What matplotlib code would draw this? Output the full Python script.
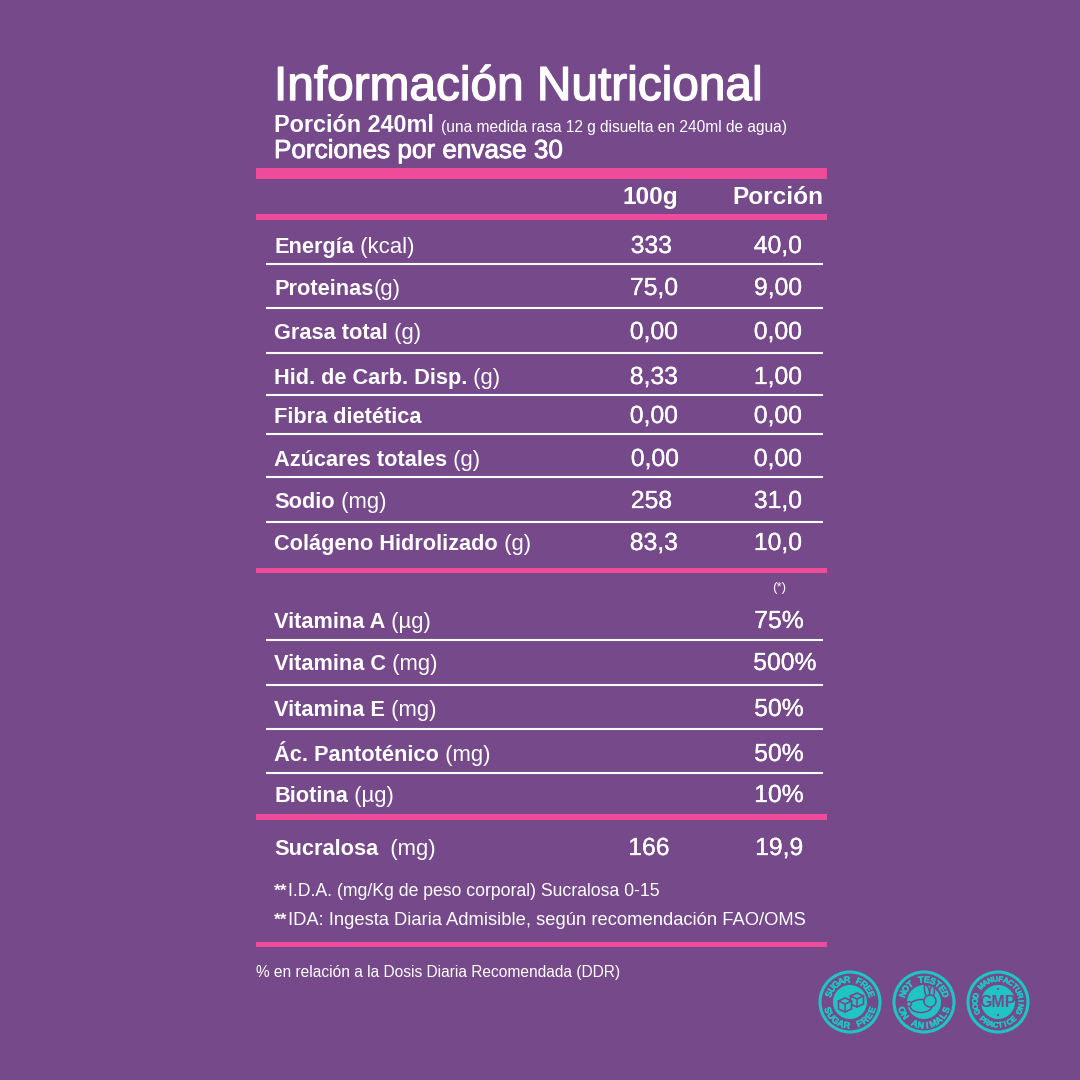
import numpy as np
import matplotlib
matplotlib.use("Agg")
import matplotlib.pyplot as plt
from matplotlib.patches import Circle, Rectangle, Ellipse, Polygon
import matplotlib.patheffects as pe

BG = "#764a8a"; PINK = "#ee4c9b"; WHITE = "#ffffff"; TEAL = "#1fc4c4"
SANS = "Liberation Sans"

# ---- content ----
title = "Información Nutricional"
serving_bold = "Porción 240ml"
serving_note = "(una medida rasa 12 g disuelta en 240ml de agua)"
servings = "Porciones por envase 30"
col_heads = ["100g", "Porción"]
nutr_bold = ["Energía", "Proteinas", "Grasa total", "Hid. de Carb. Disp.", "Fibra dietética",
             "Azúcares totales", "Sodio", "Colágeno Hidrolizado"]
nutr_unit = [" (kcal)", "(g)", " (g)", " (g)", "", " (g)", " (mg)", " (g)"]
nutr_100g = ["333", "75,0", "0,00", "8,33", "0,00", "0,00", "258", "83,3"]
nutr_por = ["40,0", "9,00", "0,00", "1,00", "0,00", "0,00", "31,0", "10,0"]
vit_bold = ["Vitamina A", "Vitamina C", "Vitamina E", "Ác. Pantoténico", "Biotina"]
vit_unit = [" (µg)", " (mg)", " (mg)", " (mg)", " (µg)"]
vit_pct = ["75%", "500%", "50%", "50%", "10%"]
sweet = ("Sucralosa", "  (mg)", "166", "19,9")
note_star = "(*)"
foot1 = "I.D.A. (mg/Kg de peso corporal) Sucralosa 0-15"
foot2 = "IDA: Ingesta Diaria Admisible, según recomendación FAO/OMS"
dose = "% en relación a la Dosis Diaria Recomendada (DDR)"

# ---- layout (pixels) ----
nutr_y = [253, 295, 339, 384, 423, 466, 508, 550]
nutr_x100 = [651.5, 654, 654, 654, 654, 655, 651.5, 654]
nutr_xpor = [778, 778, 778, 778, 778, 778, 778, 778]
vit_y = [628, 670, 716, 761, 802]
vit_x = [779, 785, 779, 779, 779]
white_rules = [264, 308, 353, 395, 434, 477, 522, 640, 685, 729, 773]
pink_rules = [(168, 179), (214, 220), (568, 573), (814, 820), (942, 947)]

fig = plt.figure(figsize=(10.8, 10.8), dpi=100, facecolor=BG)
ax = fig.add_axes([0, 0, 1, 1])
ax.set_xlim(0, 1080); ax.set_ylim(1080, 0); ax.axis("off")
rend = fig.canvas.get_renderer()

def T(x, y, s, size=16.5, bold=False, ha="left", family=SANS, stroke=0, **kw):
    t = ax.text(x, y, s, fontsize=size, fontweight="bold" if bold else "normal",
                family=family, color=WHITE, ha=ha, va="baseline", **kw)
    if stroke:
        t.set_path_effects([pe.withStroke(linewidth=stroke, foreground=WHITE)])
    return t

def fit(t, width):
    bb = t.get_window_extent(rend)
    t.set_fontsize(t.get_fontsize() * width / bb.width)

def pair(x, y, a, b, size=15.7, usize=15.9):
    t = T(x, y, a, size, True)
    end = t.get_window_extent(rend).x1
    if b:
        T(end, y, b.replace(" ", "\u00a0"), usize)

for y0, y1 in pink_rules:
    ax.add_patch(Rectangle((256, y0), 571, y1 - y0, color=PINK, lw=0))
for y in white_rules:
    ax.plot([266, 823], [y, y], color=WHITE, lw=1.5, solid_capstyle="butt")

fit(T(274, 100, title, 31, False, stroke=1.0), 488)
fit(T(274, 132, serving_bold, 16.5, True), 159)
fit(T(441, 132, serving_note, 10.5), 350)
fit(T(274, 158, servings, 16.5, False, stroke=0.6), 289)
T(650.5, 204, col_heads[0], 17.6, True, ha="center")
T(777.5, 204, col_heads[1], 17.6, True, ha="center")

for i in range(len(nutr_bold)):
    pair(274, nutr_y[i], nutr_bold[i], nutr_unit[i])
    T(nutr_x100[i], nutr_y[i], nutr_100g[i], 17.8, ha="center", stroke=0.2)
    T(nutr_xpor[i], nutr_y[i], nutr_por[i], 17.8, ha="center", stroke=0.2)

T(779, 591, note_star, 9.5, ha="center")
for i in range(len(vit_bold)):
    pair(274, vit_y[i], vit_bold[i], vit_unit[i])
    T(vit_x[i], vit_y[i], vit_pct[i], 17.8, ha="center", stroke=0.2)

pair(274, 855, sweet[0], sweet[1])
T(649, 855, sweet[2], 17.8, ha="center", stroke=0.2)
T(779, 855, sweet[3], 17.8, ha="center", stroke=0.2)

a = T(274, 896, "**", 12.5, True); e = a.get_window_extent(rend).x1
fit(T(e, 896, foot1, 12.5), 660 - e)
a = T(274, 925, "**", 12.5, True); e = a.get_window_extent(rend).x1
fit(T(e, 925, foot2, 12.5), 806 - e)
fit(T(256, 977, dose, 13), 366)

# ---- badges ----
def arc_text(cx, cy, r, s, center_deg, step, top=True, color=TEAL, size=6.6):
    n = len(s)
    for i, ch in enumerate(s):
        off = (i - (n - 1) / 2) * step
        ang = center_deg - off if top else center_deg + off
        th = np.deg2rad(ang)
        x = cx + r * np.cos(th); y = cy - r * np.sin(th)
        rot = ang - 90 if top else ang + 90
        t = ax.text(x, y, ch, color=color, fontsize=size, fontweight="bold", family=SANS,
                    ha="center", va="center_baseline", rotation=rot, rotation_mode="anchor")
        t.set_path_effects([pe.withStroke(linewidth=0.3, foreground=color)])

badge_x = [850, 924, 998]
badge_y = 1002
top_labels = ["SUGAR FREE", "NOT TESTED", "GOOD MANUFACTURING"]
bot_labels = ["SUGAR FREE", "ON ANIMALS", "PRACTICE"]
top_steps = [15.5, 15.5, 13.5]
bot_steps = [15.5, 15.5, 12]
top_sizes = [6.6, 6.6, 5.6]
for cx, tl, bl, ts, bs, sz in zip(badge_x, top_labels, bot_labels, top_steps, bot_steps, top_sizes):
    ax.add_patch(Circle((cx, badge_y), 30, fc="none", ec=TEAL, lw=2.2))
    arc_text(cx, badge_y, 23, tl, 90, ts, True, size=sz)
    arc_text(cx, badge_y, 23, bl, 270, bs, False, size=sz)

# sugar free: disc with two cubes
cx = badge_x[0]
ax.add_patch(Circle((cx, badge_y), 17, fc=TEAL, ec="none"))
for dx, dy in [(7, -2), (-5, 3)]:
    x, y = cx + dx, badge_y + dy
    ax.add_patch(Polygon([[x, y - 7], [x + 6.5, y - 4], [x + 6.5, y + 4], [x, y + 7],
                          [x - 6.5, y + 4], [x - 6.5, y - 4]], closed=True, fc=TEAL, ec=BG, lw=1.2))
    ax.plot([x - 6.5, x, x + 6.5], [y - 4, y - 1, y - 4], color=BG, lw=1.1)
    ax.plot([x, x], [y - 1, y + 7], color=BG, lw=1.1)

# not tested: disc with rabbit
cx = badge_x[1]
ax.add_patch(Circle((cx, badge_y), 17, fc=TEAL, ec="none"))
ax.add_patch(Ellipse((cx + 3, badge_y - 11), 4.5, 13, angle=-14, fc=TEAL, ec=BG, lw=1.1))
ax.add_patch(Ellipse((cx + 8, badge_y - 10), 4.5, 13, angle=8, fc=TEAL, ec=BG, lw=1.1))
ax.add_patch(Ellipse((cx - 3, badge_y + 4), 22, 13, fc=TEAL, ec=BG, lw=1.1))
ax.add_patch(Circle((cx + 6, badge_y - 1), 6, fc=TEAL, ec=BG, lw=1.1))
ax.add_patch(Circle((cx - 15, badge_y + 2), 2.4, fc=TEAL, ec=BG, lw=1.0))

# GMP: disc with letters and two dots
cx = badge_x[2]
ax.add_patch(Circle((cx, badge_y), 17, fc=TEAL, ec="none"))
ax.text(cx, badge_y + 0.5, "GMP", color=BG, fontsize=11.5, fontweight="bold", family=SANS,
        ha="center", va="center")
ax.add_patch(Circle((cx, badge_y - 13), 1.1, fc=BG, ec="none"))
ax.add_patch(Circle((cx, badge_y + 13), 1.1, fc=BG, ec="none"))

fig.savefig("out.png", dpi=100, facecolor=BG)
